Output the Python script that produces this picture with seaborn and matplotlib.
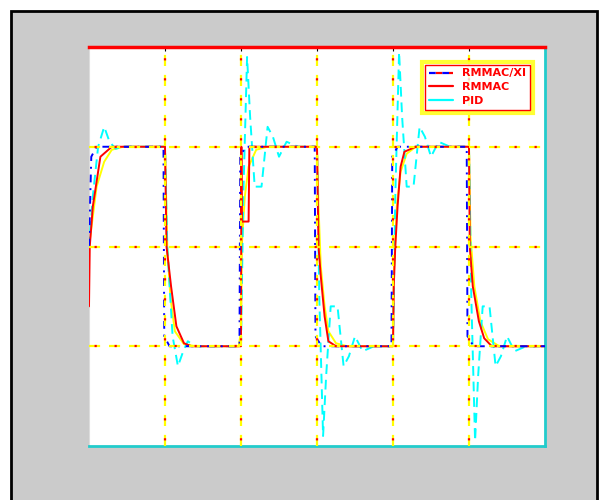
import numpy as np
import pandas as pd
import matplotlib
matplotlib.use("Agg")
import matplotlib.pyplot as plt
from matplotlib.lines import Line2D
from matplotlib.patches import Rectangle
import seaborn as sns

# reference-like trace (yellow, not in legend)
t_ref = [0, 0.05, 0.1, 0.2, 0.3, 0.45, 1.0,
         1.0, 1.03, 1.07, 1.13, 1.25, 1.4, 1.97,
         2.0, 2.01, 2.05, 2.1, 2.2, 2.35, 3.0,
         3.02, 3.05, 3.1, 3.15, 3.25, 3.4, 4.0,
         4.01, 4.05, 4.1, 4.18, 4.3, 5.0,
         5.02, 5.07, 5.15, 5.25, 5.4, 6.0]
v_ref = [0, 0.3, 0.6, 0.85, 0.97, 1.0, 1.0,
         1.0, 0.0, -0.5, -0.85, -0.98, -1.0, -1.0,
         -0.85, 0.0, 0.5, 0.8, 0.97, 1.0, 1.0,
         0.4, -0.2, -0.6, -0.85, -0.97, -1.0, -1.0,
         -0.3, 0.4, 0.75, 0.93, 1.0, 1.0,
         0.1, -0.4, -0.75, -0.93, -1.0, -1.0]

# RMMAC/XI (blue dash-dot)
t_xi = [0, 0.03, 0.1, 0.98, 0.99, 1.06, 1.98, 1.99, 2.06, 2.97, 2.98, 3.06,
        3.98, 3.99, 4.06, 4.97, 4.98, 5.06, 6.0]
v_xi = [0, 0.9, 1.0, 1.0, -0.9, -1.0, -1.0, 0.9, 1.0, 1.0, -0.9, -1.0,
        -1.0, 0.9, 1.0, 1.0, -0.9, -1.0, -1.0]

# RMMAC (red solid)
t_mm = [0, 0.01, 0.05, 0.15, 0.3, 1.0,
        1.02, 1.08, 1.15, 1.25, 1.35, 2.0,
        2.005, 2.01, 2.1, 2.11, 3.0,
        3.02, 3.05, 3.1, 3.15, 3.25, 4.0,
        4.01, 4.03, 4.06, 4.1, 4.15, 4.3, 5.0,
        5.01, 5.05, 5.13, 5.2, 5.3, 6.0]
v_mm = [-0.6, 0.0, 0.4, 0.9, 1.0, 1.0,
        0.0, -0.4, -0.8, -0.97, -1.0, -1.0,
        1.0, 0.25, 0.25, 1.0, 1.0,
        0.0, -0.3, -0.7, -0.95, -1.0, -1.0,
        -0.4, 0.0, 0.4, 0.8, 0.95, 1.0, 1.0,
        0.0, -0.4, -0.75, -0.92, -1.0, -1.0]

# PID (cyan dashed)
t_pid = [0, 0.05, 0.12, 0.2, 0.27, 0.35, 0.45, 1.0,
         1.03, 1.1, 1.17, 1.24, 1.3, 1.4, 2.0,
         2.03, 2.08, 2.12, 2.18, 2.27, 2.35, 2.42, 2.5, 2.6, 2.75, 3.0,
         3.03, 3.08, 3.12, 3.18, 3.27, 3.35, 3.42, 3.5, 3.6, 3.75, 4.0,
         4.03, 4.08, 4.12, 4.18, 4.27, 4.35, 4.42, 4.5, 4.6, 4.75, 5.0,
         5.03, 5.08, 5.12, 5.18, 5.27, 5.35, 5.42, 5.5, 5.6, 5.75, 6.0]
v_pid = [0, 0.5, 1.0, 1.2, 1.05, 0.98, 1.0, 1.0,
         0.0, -0.9, -1.2, -1.05, -0.95, -1.0, -1.0,
         0.5, 1.9, 1.3, 0.6, 0.6, 1.2, 1.1, 0.9, 1.05, 1.0, 1.0,
         -0.5, -1.9, -1.3, -0.6, -0.6, -1.2, -1.1, -0.9, -1.05, -1.0, -1.0,
         0.5, 1.95, 1.3, 0.6, 0.6, 1.2, 1.1, 0.9, 1.05, 1.0, 1.0,
         -0.5, -1.95, -1.3, -0.6, -0.6, -1.2, -1.1, -0.9, -1.05, -1.0, -1.0]

x_grid = [1, 2, 3, 4, 5]
y_grid = [-1, 0, 1]
labels = ["RMMAC/XI", "RMMAC", "PID"]

sns.set_style("white")
fig = plt.figure(figsize=(6.08, 5.0), dpi=100)
fig.patch.set_facecolor("white")
fig.add_artist(Rectangle((11 / 608, -0.05), 586 / 608, 1 - 11 / 500 + 0.05,
                         transform=fig.transFigure, facecolor="#cbcbcb",
                         edgecolor="black", linewidth=2, zorder=0))
ax = fig.add_axes([89 / 608, 1 - 446 / 500, 456 / 608, 399 / 500])
ax.set_facecolor("white")

sns.lineplot(x=t_ref, y=v_ref, ax=ax, sort=False, estimator=None, color="yellow", lw=1.4, zorder=2)
sns.lineplot(x=t_pid, y=v_pid, ax=ax, sort=False, estimator=None, color="cyan", lw=1.4,
             linestyle=(0, (5, 3)), zorder=3)
sns.lineplot(x=t_mm, y=v_mm, ax=ax, sort=False, estimator=None, color="red", lw=1.4, zorder=4)
sns.lineplot(x=t_xi, y=v_xi, ax=ax, sort=False, estimator=None, color="blue", lw=1.4,
             linestyle=(0, (4, 3, 1, 3)), zorder=5)

# grid on top: yellow dash with red dots
for xv in x_grid:
    ax.axvline(xv, color="yellow", lw=1.6, linestyle=(0, (5, 4)), zorder=7)
    ax.axvline(xv, color="red", lw=1.6, linestyle=(6.5, (1, 8)), zorder=7)
for yv in y_grid:
    ax.axhline(yv, color="yellow", lw=1.6, linestyle=(0, (5, 4)), zorder=7)
    ax.axhline(yv, color="red", lw=1.6, linestyle=(6.5, (1, 8)), zorder=7)

ax.set_xlim(0, 6)
ax.set_ylim(-2, 2)
ax.set_xticks(x_grid)
ax.set_yticks(y_grid)
ax.set_xticklabels([])
ax.set_yticklabels([])
ax.tick_params(axis="x", top=True, bottom=False, direction="in", length=3, color="black")
ax.tick_params(axis="y", left=False, right=False)
ax.spines["top"].set_color("red")
ax.spines["top"].set_linewidth(2.5)
ax.spines["bottom"].set_color("#22cccc")
ax.spines["bottom"].set_linewidth(2)
ax.spines["right"].set_color("#22cccc")
ax.spines["right"].set_linewidth(2)
ax.spines["left"].set_color("#dddddd")
ax.set_xlabel("")
ax.set_ylabel("")

handles = [Line2D([], [], color="blue", gapcolor="red", linestyle=(0, (3, 3)), lw=1.6),
           Line2D([], [], color="red", lw=1.6),
           Line2D([], [], color="cyan", lw=1.6)]
leg = ax.legend(handles, labels, loc="upper right", bbox_to_anchor=(0.985, 0.977),
                fontsize=8, frameon=True, fancybox=False, handlelength=2.2,
                borderpad=0.6, labelspacing=0.35)
leg.set_zorder(20)
leg.get_frame().set_edgecolor("yellow")
leg.get_frame().set_linewidth(3)
for txt in leg.get_texts():
    txt.set_color("red")
    txt.set_fontweight("bold")

fig.canvas.draw()
bb = leg.get_window_extent().transformed(ax.transAxes.inverted())
ax.add_patch(Rectangle((bb.x0 + 0.006, bb.y0 + 0.008), bb.width - 0.012, bb.height - 0.016,
                       transform=ax.transAxes, fill=False, edgecolor="red", lw=1, zorder=21))

fig.savefig("out.png", dpi=100)
